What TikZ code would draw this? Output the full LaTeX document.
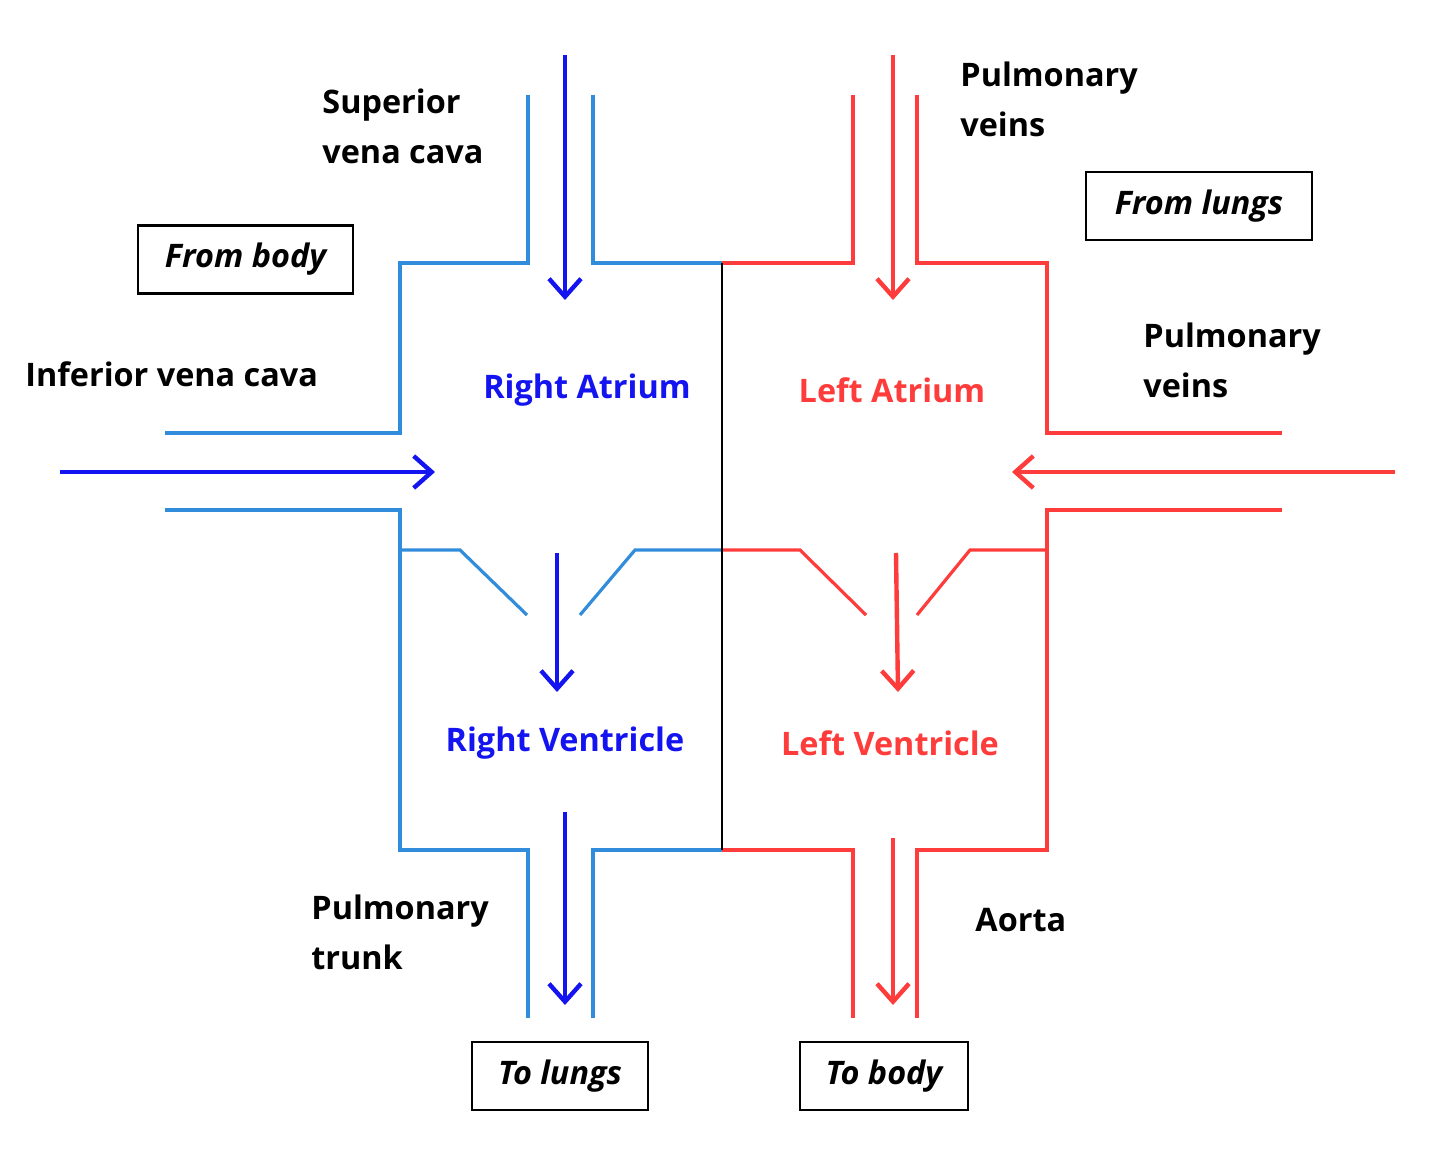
\documentclass[tikz,border=0pt]{standalone}
\usepackage{fontspec}
\setmainfont{Open Sans}
\usetikzlibrary{arrows.meta}
\definecolor{lb}{RGB}{50,140,220}
\definecolor{rd}{RGB}{255,60,60}
\definecolor{db}{RGB}{20,20,240}
\begin{document}
\begin{tikzpicture}[x=0.5pt,y=-0.5pt,
 wall/.style={line width=1.6pt},
 flow/.style={line width=2.2pt,-{Straight Barb[length=9pt,width=16pt,line width=2.2pt]}},
 lab/.style={font=\fontsize{16.2}{25}\selectfont\bfseries,align=left,anchor=north west,inner sep=0pt},
 clab/.style={font=\fontsize{16.2}{25}\selectfont\bfseries,inner sep=0pt},
 boxl/.style={draw,line width=1.3pt,font=\fontsize{16.2}{20}\selectfont\bfseries\itshape,minimum width=#1,minimum height=34pt,inner sep=0pt}]
\useasboundingbox (0,0) rectangle (1440,1176);
% blue walls
\draw[wall,lb] (528,95)--(528,263)--(400,263)--(400,433)--(165,433);
\draw[wall,lb] (593,95)--(593,263)--(722,263);
\draw[wall,lb] (165,510)--(400,510)--(400,850)--(528,850)--(528,1018);
\draw[wall,lb] (593,1018)--(593,850)--(722,850);
\draw[wall,lb] (400,550)--(460,550)--(527,615);
\draw[wall,lb] (580,615)--(635,550)--(722,550);
% red walls
\draw[wall,rd] (722,263)--(853,263)--(853,95);
\draw[wall,rd] (917,95)--(917,263)--(1047,263)--(1047,433)--(1282,433);
\draw[wall,rd] (1282,510)--(1047,510)--(1047,850)--(917,850)--(917,1018);
\draw[wall,rd] (853,1018)--(853,850)--(722,850);
\draw[wall,rd] (722,550)--(800,550)--(866,615);
\draw[wall,rd] (917,615)--(970,550)--(1047,550);
% septum
\draw[line width=1.3pt] (722,263)--(722,850);
% arrows
\coordinate (b1s) at (565,55); \coordinate (b1e) at (565,300);
\coordinate (b2s) at (60,472); \coordinate (b2e) at (435,472);
\coordinate (b3s) at (557,553); \coordinate (b3e) at (557,692);
\coordinate (b4s) at (565,812); \coordinate (b4e) at (565,1005);
\coordinate (r1s) at (893,55); \coordinate (r1e) at (893,300);
\coordinate (r2s) at (1395,472); \coordinate (r2e) at (1012,472);
\coordinate (r3s) at (896,553); \coordinate (r3e) at (898,692);
\coordinate (r4s) at (893,838); \coordinate (r4e) at (893,1005);
\draw[flow,db] (b1s)--(b1e); \draw[flow,db] (b2s)--(b2e);
\draw[flow,db] (b3s)--(b3e); \draw[flow,db] (b4s)--(b4e);
\draw[flow,rd] (r1s)--(r1e); \draw[flow,rd] (r2s)--(r2e);
\draw[flow,rd] (r3s)--(r3e); \draw[flow,rd] (r4s)--(r4e);
% labels
\node[lab] (svc) at (322,88) {Superior\\vena cava};
\node[lab] (ivc) at (25,361) {Inferior vena cava};
\node[lab] (pv1) at (960,61) {Pulmonary\\veins};
\node[lab] (pv2) at (1143,322) {Pulmonary\\veins};
\node[lab] (pt) at (311,894) {Pulmonary\\trunk};
\node[lab] (ao) at (975,908) {Aorta};
\node[clab,db] (ra) at (587,390) {Right Atrium};
\node[clab,rd] (la) at (892,390) {Left Atrium};
\node[clab,db] (rv) at (565,743) {Right Ventricle};
\node[clab,rd] (lv) at (890,743) {Left Ventricle};
\node[boxl=107.5pt] (fb) at (245.5,259.5) {From body};
\node[boxl=113pt] (fl) at (1199,206) {From lungs};
\node[boxl=88pt] (tl) at (560,1076) {To lungs};
\node[boxl=84pt] (tb) at (884,1076) {To body};
\end{tikzpicture}
\end{document}
